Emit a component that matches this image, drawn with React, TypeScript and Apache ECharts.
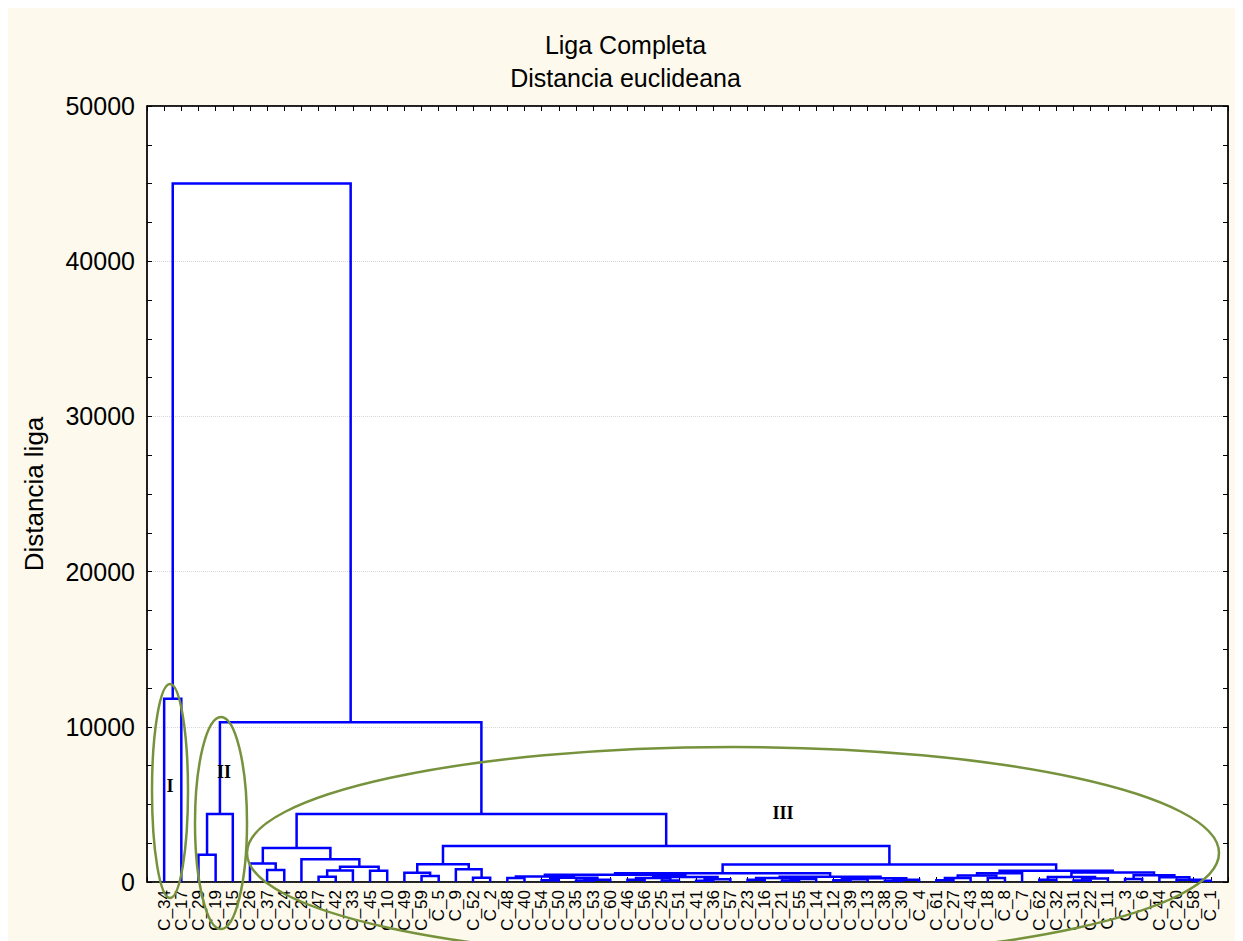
import React, { useEffect, useRef } from "react";
import * as echarts from "echarts";

// Leaf order along the horizontal axis
const leaves: string[] = [
  "C_34", "C_17", "C_29", "C_19", "C_15", "C_26", "C_37", "C_24", "C_28", "C_47",
  "C_42", "C_33", "C_45", "C_10", "C_49", "C_59", "C_5", "C_9", "C_52", "C_2",
  "C_48", "C_40", "C_54", "C_50", "C_35", "C_53", "C_60", "C_46", "C_56", "C_25",
  "C_51", "C_41", "C_36", "C_57", "C_23", "C_16", "C_21", "C_55", "C_14", "C_12",
  "C_39", "C_13", "C_38", "C_30", "C_4", "C_61", "C_27", "C_43", "C_18", "C_8",
  "C_7", "C_62", "C_32", "C_31", "C_22", "C_11", "C_3", "C_6", "C_44", "C_20",
  "C_58", "C_1",
];

// Merges: left child, right child ("#k" = merge k), linkage distance
const mergeLeft: string[] = [
  "C_34", "C_29", "#1", "C_37", "C_26", "C_47", "#5", "C_45", "#6", "C_28",
  "#4", "C_59", "C_49", "C_52", "C_9", "#12", "C_48", "C_54", "C_35", "#18",
  "#17", "#16", "C_46", "C_25", "#22", "C_41", "#25", "#24", "#21", "C_23",
  "C_21", "#30", "#29", "C_12", "#33", "C_38", "#35", "#34", "#32", "#28",
  "C_61", "#40", "C_18", "#41", "#43", "C_62", "C_31", "#46", "#45", "C_3",
  "C_58", "C_20", "C_44", "#49", "#48", "#44", "#39", "#15", "#10", "#2",
  "#0",
];
const mergeRight: string[] = [
  "C_17", "C_19", "C_15", "C_24", "#3", "C_42", "C_33", "C_10", "#7", "#8",
  "#9", "C_5", "#11", "C_2", "#13", "#14", "C_40", "C_50", "C_53", "C_60",
  "#19", "#20", "C_56", "C_51", "#23", "C_36", "C_57", "#26", "#27", "C_16",
  "C_55", "C_14", "#31", "C_39", "C_13", "C_30", "C_4", "#36", "#37", "#38",
  "C_27", "C_43", "C_8", "#42", "C_7", "C_32", "C_22", "C_11", "#47", "C_6",
  "C_1", "#50", "#51", "#52", "#53", "#54", "#55", "#56", "#57", "#58",
  "#59",
];
const mergeHeight: number[] = [
  11800, 1760, 4380, 770, 1200, 340, 740, 720, 990, 1460,
  2190, 390, 600, 280, 820, 1140, 250, 120, 90, 150,
  280, 360, 150, 100, 250, 80, 180, 330, 470, 150,
  100, 200, 260, 120, 170, 80, 150, 240, 340, 560,
  120, 260, 250, 420, 560, 150, 100, 220, 320, 200,
  80, 150, 300, 430, 620, 728, 1128, 2320, 4380, 10300,
  45000,
];

const yTicks: number[] = [0, 10000, 20000, 30000, 40000, 50000];

const FONT = "'Liberation Sans', Arial, sans-serif";
const SERIF = "'Liberation Serif', 'Times New Roman', serif";

function buildSegments() {
  const nodeX: number[] = [];
  const nodeH: number[] = [];
  const pos = (name: string): [number, number] => {
    if (name.startsWith("#")) {
      const k = parseInt(name.slice(1), 10);
      return [nodeX[k], nodeH[k]];
    }
    return [leaves.indexOf(name), 0];
  };
  const data: number[][] = [];
  for (let i = 0; i < mergeHeight.length; i++) {
    const [xl, hl] = pos(mergeLeft[i]);
    const [xr, hr] = pos(mergeRight[i]);
    const h = mergeHeight[i];
    nodeX[i] = (xl + xr) / 2;
    nodeH[i] = h;
    data.push([xl, hl, xr, hr, h]);
  }
  return data;
}

const axisLine = { show: true, onZero: false, lineStyle: { color: "#000", width: 1.5 } };
const tick = { show: true, inside: true, length: 5, lineStyle: { color: "#000" } };
const minor = { show: true, splitNumber: 4, length: 5, lineStyle: { color: "#000" } };

export default function App() {
  const ref = useRef<HTMLDivElement>(null);
  useEffect(() => {
    if (!ref.current) return;
    const chart = echarts.init(ref.current, undefined, { renderer: "svg" });
    const segs = buildSegments();
    const xMin = -1;
    const xMax = leaves.length;
    const label = (t: string, x: number, y: number) => ({
      type: "text",
      x,
      y,
      style: {
        text: t,
        fontFamily: SERIF,
        fontWeight: "bold",
        fontSize: 18,
        fill: "#000",
        align: "center",
        verticalAlign: "middle",
      },
      z: 101,
    });
    const ell = (cx: number, cy: number, rx: number, ry: number) => ({
      type: "ellipse",
      shape: { cx, cy, rx, ry },
      style: { fill: "none", stroke: "#76923C", lineWidth: 2.5 },
      z: 100,
    });
    const option: any = {
      animation: false,
      backgroundColor: "#FDF9EC",
      title: {
        text: "Liga Completa\nDistancia euclideana",
        left: "center",
        top: 15,
        textStyle: {
          fontFamily: FONT,
          fontSize: 25,
          fontWeight: "normal",
          color: "#000",
          lineHeight: 33,
        },
      },
      grid: {
        left: 139,
        right: 15,
        top: 98,
        bottom: 59,
        show: true,
        backgroundColor: "#ffffff",
        borderColor: "#000",
        borderWidth: 1,
      },
      xAxis: [
        {
          type: "value",
          min: xMin,
          max: xMax,
          interval: 1,
          position: "bottom",
          axisLine,
          axisTick: tick,
          splitLine: { show: false },
          axisLabel: {
            rotate: 90,
            margin: 8,
            fontFamily: FONT,
            fontSize: 17,
            color: "#000",
            formatter: (v: number) => {
              const i = Math.round(v);
              return i >= 0 && i < leaves.length ? leaves[i] : "";
            },
          },
        },
        {
          type: "value",
          min: xMin,
          max: xMax,
          interval: 1,
          position: "top",
          axisLine,
          axisTick: tick,
          splitLine: { show: false },
          axisLabel: { show: false },
        },
      ],
      yAxis: [
        {
          type: "value",
          min: yTicks[0],
          max: yTicks[yTicks.length - 1],
          interval: 10000,
          position: "left",
          name: "Distancia liga",
          nameLocation: "middle",
          nameRotate: 90,
          nameGap: 100,
          nameTextStyle: { fontFamily: FONT, fontSize: 26, color: "#000" },
          axisLine,
          axisTick: tick,
          minorTick: minor,
          splitLine: { show: true, lineStyle: { color: "#d6d6d6", type: "dotted", width: 1 } },
          axisLabel: {
            margin: 12,
            fontFamily: FONT,
            fontSize: 25,
            color: "#000",
            formatter: (v: number) => String(v),
          },
        },
        {
          type: "value",
          min: yTicks[0],
          max: yTicks[yTicks.length - 1],
          interval: 10000,
          position: "right",
          axisLine,
          axisTick: tick,
          minorTick: minor,
          splitLine: { show: false },
          axisLabel: { show: false },
        },
      ],
      series: [
        {
          type: "custom",
          xAxisIndex: 0,
          yAxisIndex: 0,
          encode: { x: [0, 2], y: [1, 3, 4] },
          data: segs,
          renderItem: (params: any, api: any) => {
            const p1 = api.coord([api.value(0), api.value(1)]);
            const p2 = api.coord([api.value(0), api.value(4)]);
            const p3 = api.coord([api.value(2), api.value(4)]);
            const p4 = api.coord([api.value(2), api.value(3)]);
            return {
              type: "polyline",
              shape: { points: [p1, p2, p3, p4] },
              style: { stroke: "#0000FF", lineWidth: 2.5, fill: "none" },
            };
          },
        },
      ],
      graphic: [
        ell(162, 783, 18, 107),
        ell(213, 815, 26, 106),
        ell(725, 845, 486, 106),
        label("I", 162, 778),
        label("II", 216, 764),
        label("III", 775, 805),
      ],
    };
    chart.setOption(option);
    return () => chart.dispose();
  }, []);
  return <div ref={ref} style={{ width: 1235, height: 933 }} />;
}
